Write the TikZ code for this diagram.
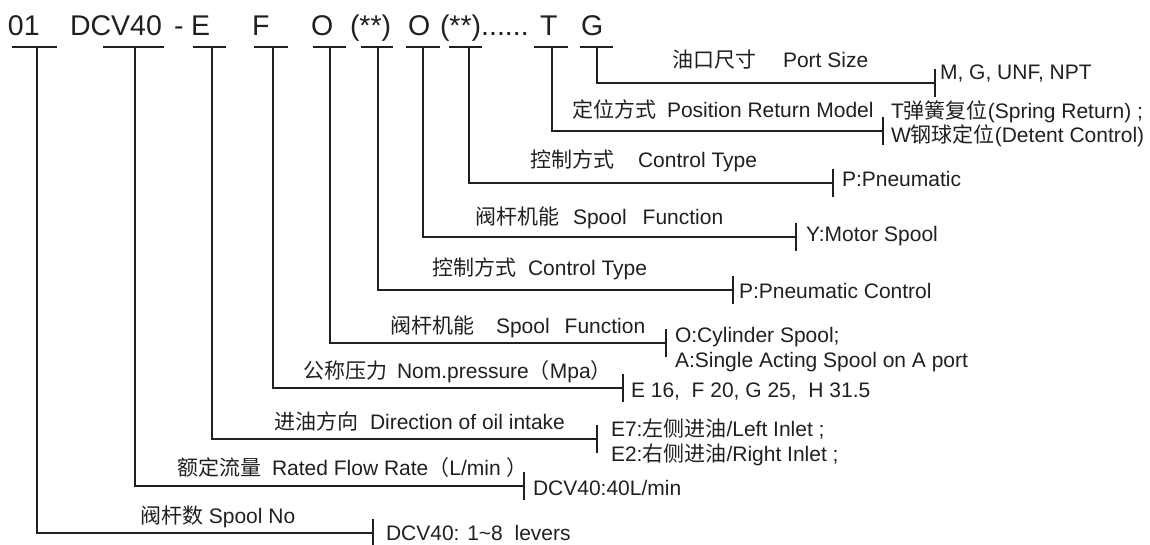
\documentclass[tikz,border=0pt]{standalone}
\usepackage{fontspec}
\setmainfont{Liberation Sans}
\newfontfamily\cjk{Noto Sans CJK SC}
\definecolor{ink}{HTML}{231F20}
\tikzset{
  code/.style={anchor=base west, inner sep=0pt, outer sep=0pt, font=\fontsize{28.5}{30}\selectfont, text=ink},
  lab/.style={anchor=base west, inner sep=0pt, outer sep=0pt, font=\fontsize{21}{24}\selectfont, text=ink},
  opt/.style={lab},
  wire/.style={draw=ink, line width=1.9pt},
}
\begin{document}
\begin{tikzpicture}[x=1pt,y=-1pt]
\useasboundingbox (0,0) rectangle (1150,545);
% top code
\node[code] (t01) at (8,36) {01};
\node[code] (tDCV) at (70,36) {DCV40};
\node[code] (tdash) at (174,36) {-};
\node[code] (tE) at (191,36) {E};
\node[code] (tF) at (252,36) {F};
\node[code] (tOa) at (311,36) {O};
\node[code] (tSa) at (350,36) {(**)};
\node[code] (tOb) at (408,36) {O};
\node[code] (tSb) at (440,36) {(**)......};
\node[code] (tT) at (540,36) {T};
\node[code] (tG) at (581,36) {G};
% underlines, drops, ticks
\foreach \n/\dx/\ul/\ur/\kx/\ky in {
  01/37/12/57/373/533,
  DCV/135/103/164/524/486,
  E/212/193/226/597/439,
  F/273/254/288/623/388,
  Oa/330/313/346/666/343,
  Sa/378/361/393/733/290,
  Ob/423/406/440/796/237,
  Sb/469/449/482/833/183,
  T/552/534/568/883/131,
  G/597/580/613/935/83}{
  \coordinate (ua\n) at (\ul,46.7);
  \coordinate (ub\n) at (\ur,46.7);
  \coordinate (d\n) at (\dx,46.7);
  \coordinate (k\n) at (\kx,\ky);
  \draw[wire] (ua\n) -- (ub\n);
  \draw[wire] (d\n) |- (k\n);
  \draw[wire] ([yshift=14pt]k\n) -- ([yshift=-14pt]k\n);
}
% labels
\node[lab] (lG) at (672,68) {{\cjk 油口尺寸}\hspace{27pt}Port Size};
\node[lab] (lT) at (572,118) {{\cjk 定位方式}\hspace{11pt}Position Return Model};
\node[lab] (lSb) at (530,168) {{\cjk 控制方式}\hspace{24pt}Control Type};
\node[lab] (lOb) at (475,225) {{\cjk 阀杆机能}\hspace{14pt}Spool\hspace{16pt}Function};
\node[lab] (lSa) at (432,275) {{\cjk 控制方式}\hspace{12pt}Control Type};
\node[lab] (lOa) at (390,333) {{\cjk 阀杆机能}\hspace{22pt}Spool\hspace{15pt}Function};
\node[lab] (lF) at (303,378) {{\cjk 公称压力}\hspace{10pt}Nom.pressure{\cjk （}Mpa{\cjk ）}};
\node[lab] (lE) at (274,429) {{\cjk 进油方向}\hspace{12pt}Direction of oil intake};
\node[lab] (lDCV) at (177,475) {{\cjk 额定流量}\hspace{11pt}Rated Flow Rate{\cjk （}L/min {\cjk ）}};
\node[lab] (l01) at (140,523) {{\cjk 阀杆数} Spool No};
% options
\node[opt] (oG) at (940,80) {M, G, UNF, NPT};
\node[opt] (oT1) at (891,119) {T{\cjk 弹簧复位}(Spring Return) ;};
\node[opt] (oT2) at (891,143) {W{\cjk 钢球定位}(Detent Control)};
\node[opt] (oSb) at (842,187) {P:Pneumatic};
\node[opt] (oOb) at (806,242) {Y:Motor Spool};
\node[opt] (oSa) at (739,298) {P:Pneumatic Control};
\node[opt] (oOa1) at (675,342) {O:Cylinder Spool;};
\node[opt] (oOa2) at (675,367) {A:Single Acting Spool on A port};
\node[opt] (oF) at (631,397) {E 16,\ \ F 20, G 25,\ \ H 31.5};
\node[opt] (oE1) at (611,436) {E7:{\cjk 左侧进油}/Left Inlet ;};
\node[opt] (oE2) at (611,461) {E2:{\cjk 右侧进油}/Right Inlet ;};
\node[opt] (oDCV) at (533,495) {DCV40:40L/min};
\node[opt] (o01) at (386,540) {DCV40: 1\char`~8\ \ levers};
\end{tikzpicture}
\end{document}
